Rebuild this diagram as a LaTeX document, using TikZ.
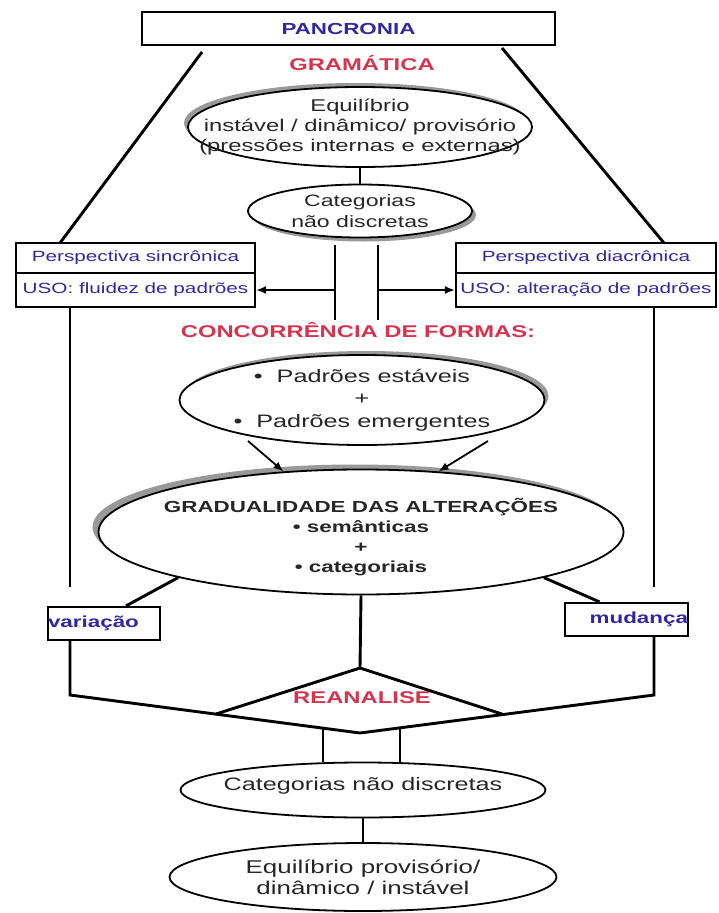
\documentclass[tikz,border=0pt]{standalone}
\usepackage{fontspec}
\setmainfont[FakeStretch=1.4]{Liberation Sans}
\usetikzlibrary{shapes.geometric, shadows, arrows.meta}
\definecolor{azul}{RGB}{48,40,160}
\definecolor{verm}{RGB}{214,52,78}
\definecolor{tinta}{RGB}{38,38,38}
\newcommand{\fsz}[2]{\fontsize{#1}{#2}\selectfont}

\begin{document}
\begin{tikzpicture}[x=1pt, y=-1pt,
                E/.style = {ellipse, draw, line width=1.8pt, fill=white, inner sep=0pt},
                B/.style = {rectangle, draw, line width=2.2pt, fill=white, inner sep=0pt, text=azul},
                T/.style = {text=verm, font=\fsz{17}{20}\bfseries},
                X/.style = {text=tinta, align=center},
                L/.style = {line width=2.9pt},
                A/.style = {line width=1.8pt, -{Latex[length=10pt, width=8pt]}},
                sh/.style 2 args = {drop shadow={shadow xshift=#1pt, shadow yshift=#2pt, fill=gray!80, opacity=1}}
                    ]
                \useasboundingbox (0,0) rectangle (718,913);
                \node[B, minimum width=413pt, minimum height=33pt, font=\fsz{16}{19}\bfseries] (pan) at (348.5,28.5) {PANCRONIA};
                \node[T] (gram) at (362,63) {GRAMÁTICA};
                \node[E, sh={-4}{4}, minimum width=344pt, minimum height=80pt] (eq1) at (360,127) {};
                \node[X, font=\fsz{17}{20}] (eq1t) at (eq1) {Equilíbrio\\instável / dinâmico/ provisório\\(pressões internas e externas)};
                \node[E, sh={4}{-4}, minimum width=224pt, minimum height=53pt] (cat1) at (360,211) {};
                \node[X, font=\fsz{16.5}{21}] (cat1t) at (cat1) {Categorias\\não discretas};
                \begin{scope}[nodes={B, font=\fsz{14.8}{17}}]
                \node[minimum width=239pt, minimum height=30pt] (sincA) at (135.5,258) {Perspectiva sincrônica};
                \node[minimum width=239pt, minimum height=34pt] (sincB) at (135.5,290) {USO: fluidez de padrões};
                \node[minimum width=260pt, minimum height=30pt] (diacA) at (586,258) {Perspectiva diacrônica};
                \node[minimum width=260pt, minimum height=34pt] (diacB) at (586,290) {USO: alteração de padrões};
                \end{scope}
                \node[T] (conc) at (358,330) {CONCORRÊNCIA DE FORMAS:};
                \node[E, sh={4}{4}, minimum width=365pt, minimum height=90pt] (eq3) at (362,400) {};
                \node[X, font=\fsz{18}{22.5}] (eq3t) at (eq3) {\textbullet\ \ Padrões estáveis\\+\\\textbullet\ \ Padrões emergentes};
                \node[E, sh={-6}{5}, minimum width=525pt, minimum height=125pt] (grad) at (361,532) {};
                \node[X, font=\fsz{16}{20}\bfseries] (gradt) at (361,537) {GRADUALIDADE DAS ALTERAÇÕES\\\textbullet\ semânticas\\+\\\textbullet\ categoriais};
                \node[B, minimum width=112pt, minimum height=33pt, text width=112pt, align=left, font=\fsz{16}{19}\bfseries] (var) at (104,623.5) {variação};
                \node[B, minimum width=123pt, minimum height=33pt, text width=123pt, align=right, font=\fsz{16}{19}\bfseries] (mud) at (626.5,619.5) {mudança};
                \node[T] (rean) at (362,698) {REANALISE};
                \node[E, minimum width=365pt, minimum height=55pt] (cat2) at (363,790) {};
                \node[X, font=\fsz{18}{21}] (cat2t) at (363,786) {Categorias não discretas};
                \node[E, minimum width=387pt, minimum height=68pt] (eq2) at (363,877) {};
                \node[X, font=\fsz{18.5}{21}] (eq2t) at (eq2) {Equilíbrio provisório/\\dinâmico / instável};

                \coordinate (dl1) at (202,52);
                \coordinate (dl2) at (60,243);
                \coordinate (dr1) at (502,48);
                \coordinate (dr2) at (664,243);
                \coordinate (v1) at (335,245);
                \coordinate (v1e) at (335,320);
                \coordinate (v2) at (378,245);
                \coordinate (v2e) at (378,320);
                \coordinate (a1) at (248,441);
                \coordinate (a2) at (488,441);
                \coordinate (l1) at (70,587);
                \coordinate (l2) at (70,695);
                \coordinate (r1) at (654,587);
                \coordinate (r2) at (654,695);
                \coordinate (tt) at (360,668);
                \coordinate (tl) at (216,714);
                \coordinate (tr) at (502,714);
                \coordinate (vb) at (360,733);
                \coordinate (c1) at (323,728.5);
                \coordinate (c2) at (400,728);

                \draw[L] (dl1) to (dl2);
                \draw[L] (dr1) to (dr2);
                \draw[L] (eq1) to (cat1);
                \draw[L] (v1) to (v1e);
                \draw[L] (v2) to (v2e);
                \draw[A] (v1 |- sincB) to (sincB.east);
                \draw[A] (v2 |- diacB) to (diacB.west);
                \draw[L] (l1 |- sincB.south) to (l1);
                \draw[L] (r1 |- diacB.south) to (r1);
                \draw[A] (a1) to (grad.142);
                \draw[A] (a2) to (grad.38);
                \draw[L] (grad.194) to ([xshift=22pt]var.north);
                \draw[L] (grad.-14) to ([xshift=-27pt]mud.north);
                \draw[L] (grad.south) to (tt);
                \draw[L] (tl) -- (tt) -- (tr);
                \draw[L] (l1 |- var.south) -- (l2) -- (vb) -- (r2) -- (r1 |- mud.south);
                \draw[L] (c1) to (c1 |- cat2.north);
                \draw[L] (c2) to (c2 |- cat2.north);
                \draw[L] (cat2) to (eq2);
            \end{tikzpicture}
\end{document}
